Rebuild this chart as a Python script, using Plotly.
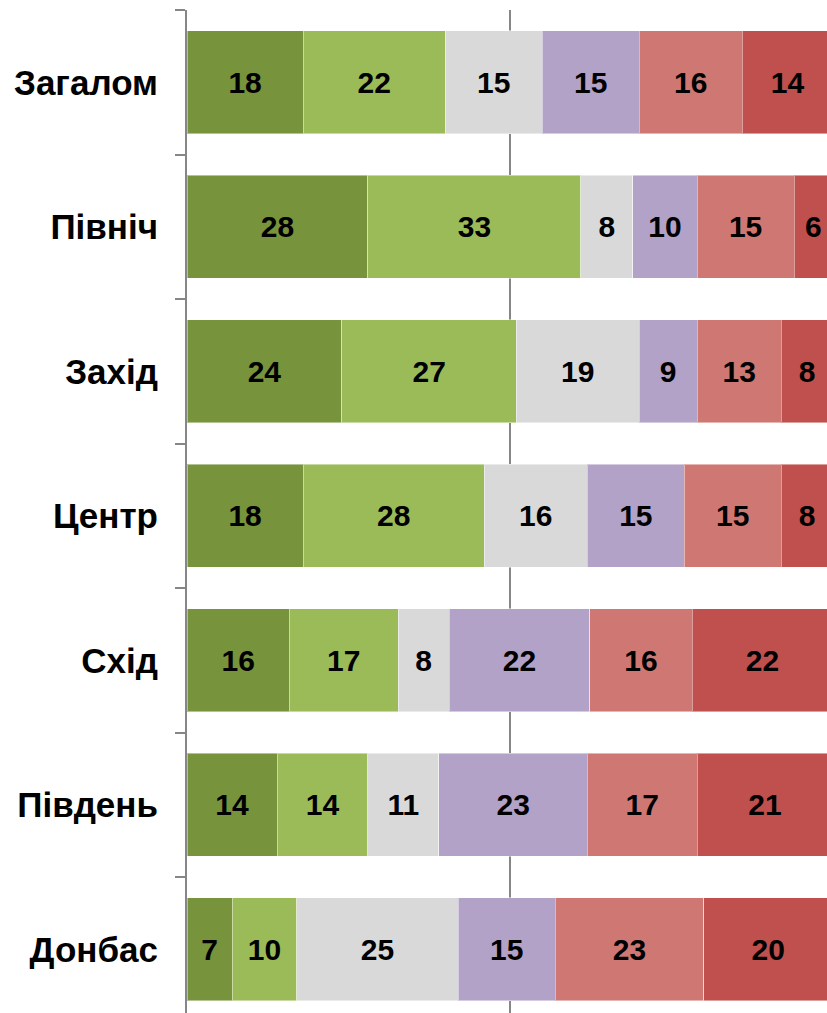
import plotly.graph_objects as go

categories = ["Загалом", "Північ", "Захід", "Центр", "Схід", "Південь", "Донбас"]

s1 = [18, 28, 24, 18, 16, 14, 7]
s2 = [22, 33, 27, 28, 17, 14, 10]
s3 = [15, 8, 19, 16, 8, 11, 25]
s4 = [15, 10, 9, 15, 22, 23, 15]
s5 = [16, 15, 13, 15, 16, 17, 23]
s6 = [14, 6, 8, 8, 22, 21, 20]

series = [s1, s2, s3, s4, s5, s6]
colors = ["#77933C", "#9BBB59", "#D9D9D9", "#B3A2C7", "#CF7873", "#C0504D"]

FONT = "Liberation Sans, Arial, sans-serif"

fig = go.Figure()
for vals, col in zip(series, colors):
    fig.add_trace(go.Bar(
        y=categories, x=vals, orientation="h",
        marker=dict(color=col, line=dict(color="rgba(255,255,255,0.45)", width=1)),
        text=vals, texttemplate="%{text}",
        textposition="inside", insidetextanchor="middle",
        constraintext="none", textangle=0,
        textfont=dict(family=FONT, size=30, color="black", weight="bold"),
        showlegend=False, hoverinfo="skip",
    ))

fig.update_layout(
    barmode="stack",
    barnorm="percent",
    bargap=0.287,
    width=827, height=1013,
    margin=dict(l=187, r=0, t=10, b=0),
    plot_bgcolor="white", paper_bgcolor="white",
    font=dict(family=FONT),
)
fig.update_xaxes(
    range=[0, 99.1], dtick=50, showgrid=True, gridcolor="#868686", gridwidth=1.5,
    showticklabels=False, zeroline=False, showline=False,
)
fig.update_yaxes(
    categoryorder="array", categoryarray=categories,
    range=[6.44, -0.5],
    showline=True, linecolor="#868686", linewidth=2,
    ticks="outside", ticklen=10, tickcolor="#868686", tickwidth=2,
    tickson="boundaries",
    ticklabelstandoff=20,
    tickfont=dict(family=FONT, size=35, color="black", weight="bold"),
    showgrid=False, zeroline=False,
)

fig.write_html("out.html", config={"displayModeBar": False})

with open("out.html", "r", encoding="utf-8") as f:
    html = f.read()
html = html.replace("<head>", "<head><style>html,body{margin:0;padding:0;overflow:hidden;}</style>", 1)
with open("out.html", "w", encoding="utf-8") as f:
    f.write(html)
